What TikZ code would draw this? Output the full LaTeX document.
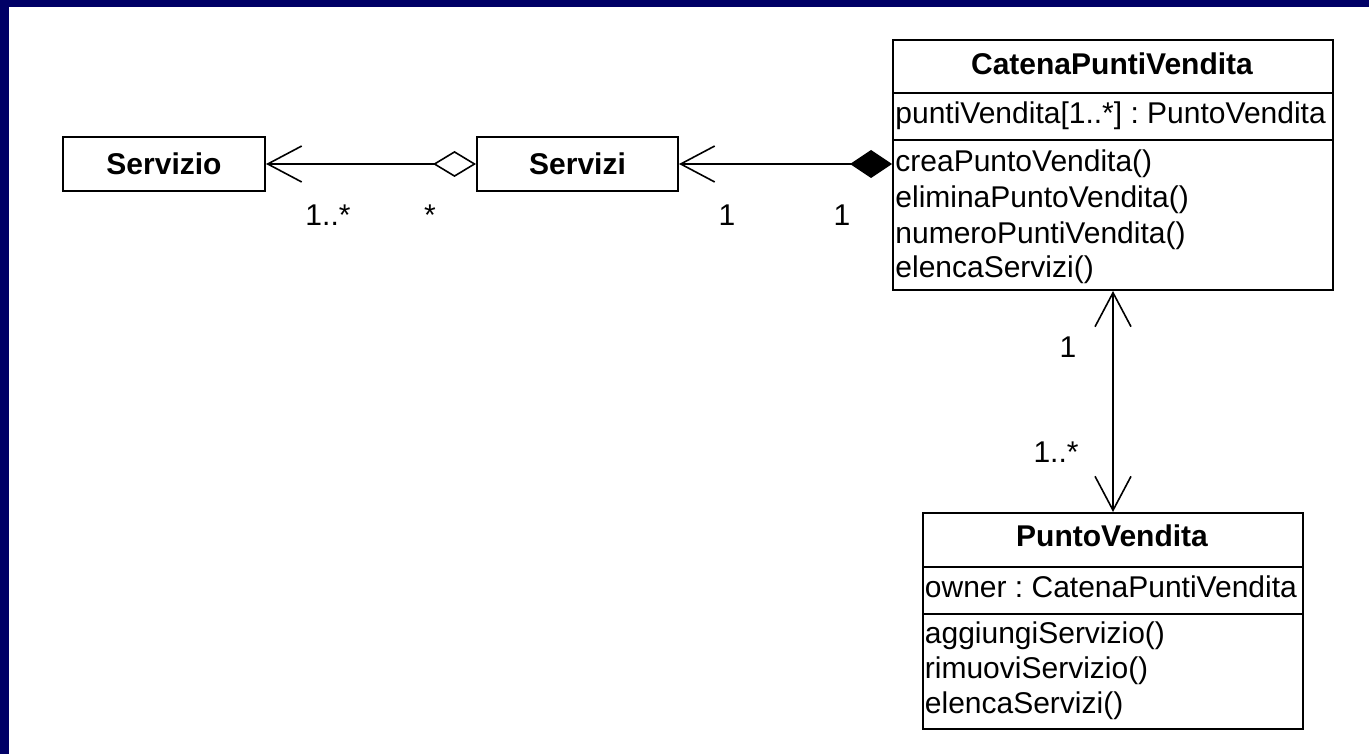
\documentclass[tikz,border=0pt]{standalone}
\usepackage{fontspec}
\setmainfont{Liberation Sans}
\usetikzlibrary{arrows.meta}
\definecolor{barblue}{RGB}{0,0,102}
\frenchspacing
\newcommand{\umlfont}{\fontsize{15pt}{18pt}\selectfont}
\tikzset{
  umlbox/.style={draw, line width=1pt, inner sep=0pt, anchor=north west},
  simplebox/.style={draw, line width=1pt, inner sep=0pt, minimum height=27pt,
    font=\umlfont\bfseries},
  classtitle/.style={font=\umlfont\bfseries, anchor=base, inner sep=0pt},
  member/.style={font=\umlfont, anchor=base west, inner sep=0pt},
  mult/.style={font=\umlfont, anchor=base, inner sep=0pt},
  assoc/.style={line width=0.8pt},
  navtip/.tip={Straight Barb[length=17pt,width=18pt]},
  aggtip/.tip={Diamond[open,length=21.5pt,width=13pt]},
  comptip/.tip={Diamond[fill=black,length=21pt,width=14pt]},
}
\begin{document}
\begin{tikzpicture}[x=0.5pt,y=-0.5pt]
  % page and frame bars
  \useasboundingbox (0,0) rectangle (1369,754);
  \fill[white] (0,0) rectangle (1369,754);
  \fill[barblue] (0,0) rectangle (1369,7);
  \fill[barblue] (0,0) rectangle (9,754);

  % simple classes
  \node[simplebox, minimum width=101pt] (servizio) at (164,164) {Servizio};
  \node[simplebox, minimum width=100.5pt] (servizi) at (577.5,164) {Servizi};

  % CatenaPuntiVendita
  \node[umlbox, minimum width=220pt, minimum height=26.5pt] (cpvHead) at (892,39) {};
  \node[umlbox, minimum width=220pt, minimum height=23.5pt] (cpvAttr) at (892,92) {};
  \node[umlbox, minimum width=220pt, minimum height=75pt] (cpvOps) at (892,139) {};
  \node[classtitle] (cpvName) at (1112,75) {CatenaPuntiVendita};
  \node[member] (cpvA1) at (895,124) {puntiVendita[1..*] : PuntoVendita};
  \node[member] (cpvM1) at (895,172) {creaPuntoVendita()};
  \node[member] (cpvM2) at (895,207.5) {eliminaPuntoVendita()};
  \node[member] (cpvM3) at (895,243) {numeroPuntiVendita()};
  \node[member] (cpvM4) at (895,278) {elencaServizi()};

  % PuntoVendita
  \node[umlbox, minimum width=190pt, minimum height=27pt] (pvHead) at (922,512) {};
  \node[umlbox, minimum width=190pt, minimum height=23.5pt] (pvAttr) at (922,566) {};
  \node[umlbox, minimum width=190pt, minimum height=57.5pt] (pvOps) at (922,613) {};
  \node[classtitle] (pvName) at (1112,546) {PuntoVendita};
  \node[member] (pvA1) at (924.5,597) {owner : CatenaPuntiVendita};
  \node[member] (pvM1) at (924.5,643) {aggiungiServizio()};
  \node[member] (pvM2) at (924.5,678) {rimuoviServizio()};
  \node[member] (pvM3) at (924.5,713) {elencaServizi()};

  % associations
  \draw[assoc, {navtip}-{aggtip}] (servizio.east) -- (servizi.west);
  \draw[assoc, {navtip}-{comptip}] (servizi.east) -- (servizi.east -| cpvOps.west);
  \draw[assoc, {navtip}-{navtip}] (cpvOps.south) -- (pvHead.north);

  % multiplicities
  \node[mult] (m1) at (328,226) {1..*};
  \node[mult] (m2) at (430,226) {*};
  \node[mult] (m3) at (727,226) {1};
  \node[mult] (m4) at (842,226) {1};
  \node[mult] (m5) at (1068,357) {1};
  \node[mult] (m6) at (1056,462) {1..*};
\end{tikzpicture}
\end{document}
